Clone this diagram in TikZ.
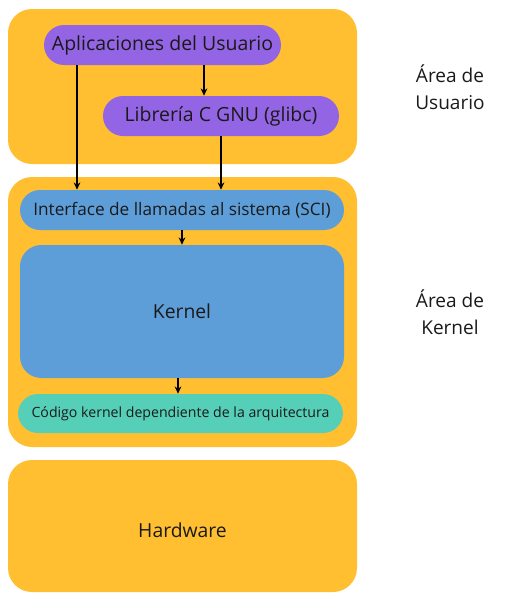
\documentclass[tikz,border=0pt]{standalone}
\usepackage{fontspec}
\setmainfont{Open Sans}
\usetikzlibrary{arrows.meta,positioning}
\definecolor{areaorange}{HTML}{FFBF30}
\definecolor{userpurple}{HTML}{9364E3}
\definecolor{kernelblue}{HTML}{5D9ED9}
\definecolor{archteal}{HTML}{56CFB9}
\definecolor{textdark}{HTML}{1A1A1A}

\tikzset{
  areabox/.style={rectangle, fill=areaorange, rounded corners=18pt, inner sep=0pt,
                  minimum width=261.75pt, text=textdark},
  pill/.style={rectangle, rounded corners=15pt, inner sep=0pt, minimum height=30pt,
               text=textdark},
  arealabel/.style={align=center, font=\fontsize{14.3}{20}\selectfont, text=textdark},
  arr/.style={-{Stealth[length=5.5pt,width=5pt]}, line width=1.3pt, black}
}

\begin{document}
\begin{tikzpicture}[x=0.75pt, y=-0.75pt]
  \useasboundingbox (0,0) rectangle (523,612);

  % area boxes
  \node[areabox, minimum height=116.25pt] (userarea) at (182.5,86.5) {};
  \node[areabox, minimum height=202.5pt] (kernelarea) at (182.5,312) {};
  \node[areabox, minimum height=99pt, text height=18pt, font=\fontsize{14.5}{16}\selectfont] (hardware) at (182.5,526) {Hardware};

  % user space
  \node[pill, fill=userpurple, minimum width=177.75pt, font=\fontsize{14.6}{16}\selectfont] (apps) at (162.5,45) {Aplicaciones del Usuario};
  \node[pill, fill=userpurple, minimum width=177pt, font=\fontsize{14.6}{16}\selectfont] (glibc) at (221,116) {Librería C GNU (glibc)};

  % kernel space
  \node[pill, fill=kernelblue, minimum width=243pt, font=\fontsize{12.9}{14}\selectfont] (sci) at (182,210) {Interface de llamadas al sistema (SCI)};
  \node[rectangle, fill=kernelblue, rounded corners=16pt, minimum width=243pt, minimum height=99.75pt,
        inner sep=0pt, text=textdark, font=\fontsize{14.5}{16}\selectfont] (kernel) at (182,311.5) {Kernel};
  \node[pill, fill=archteal, minimum width=243.75pt, minimum height=29.25pt, font=\fontsize{10.6}{12}\selectfont] (arch) at (180.5,413.5) {Código kernel dependiente de la arquitectura};

  % labels
  \node[arealabel] (userlabel) at (450,87.5) {Área de\\Usuario};
  \node[arealabel] (kernellabel) at (450,312.5) {Área de\\Kernel};

  % arrows
  \draw[arr] (apps.south -| 77,0) -- (sci.north -| 77,0);
  \draw[arr] (apps.south -| 204,0) -- (glibc.north -| 204,0);
  \draw[arr] (glibc.south -| 221,0) -- (sci.north -| 221,0);
  \draw[arr] (sci.south -| 182,0) -- (kernel.north -| 182,0);
  \draw[arr] (kernel.south -| 178,0) -- (arch.north -| 178,0);
\end{tikzpicture}
\end{document}
